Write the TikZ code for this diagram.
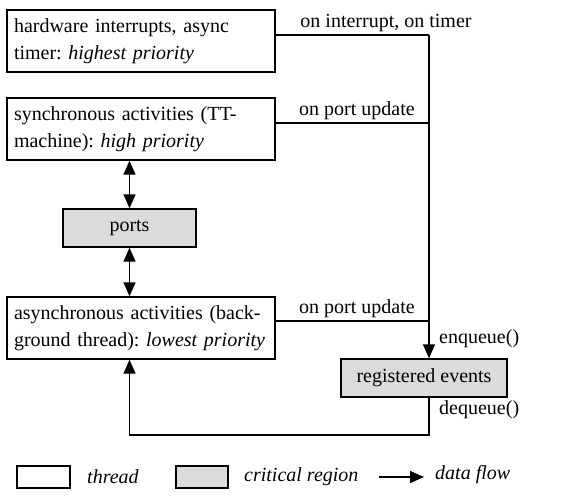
\documentclass[tikz,border=0pt]{standalone}
\usepackage{fontspec}
\setmainfont{Liberation Serif}
\usetikzlibrary{arrows.meta,positioning}
\tikzstyle{thr}=[draw=black,line width=1.4pt,fill=white,minimum width=268pt,minimum height=62pt,text width=254pt,align=left,inner sep=0pt]
\tikzstyle{crit}=[draw=black,line width=1.4pt,fill=black!14,minimum height=38pt,inner sep=0pt]
\tikzstyle{flow}=[-{Triangle[width=12pt,length=14pt]},line width=1.4pt]
\tikzstyle{both}=[{Triangle[width=12pt,length=14pt]}-{Triangle[width=12pt,length=14pt]},line width=1.4pt]
\tikzstyle{lbl}=[font=\fontsize{20}{24}\selectfont,inner sep=1pt]

\begin{document}
\frenchspacing
\begin{tikzpicture}[x=1pt,y=-1pt,font=\fontsize{20}{27}\selectfont]
\useasboundingbox (0,0) rectangle (586,500);
% threads
\node[thr] (hw) at (141,41) {hardware interrupts, async\\timer: \textit{highest priority}};
\node[thr] (sync) at (141,129) {synchronous activities (TT-\\machine): \textit{high priority}};
\node[crit,minimum width=133pt] (ports) at (129.5,228) {ports};
\node[thr] (async) at (141,328) {asynchronous activities (back-\\ground thread): \textit{lowest priority}};
\node[crit,minimum width=166pt] (regev) at (424,378) {registered events};
% event bus
\coordinate (bustop) at (429,35);
\coordinate (busbot) at (429,435);
\draw[line width=1.4pt] ([yshift=6pt]hw.east) -- (bustop);
\draw[flow] (bustop) -- (regev.north -| bustop);
\draw[line width=1.4pt] ([yshift=6pt]sync.east) -- ([yshift=6pt]sync.east -| bustop);
\draw[line width=1.4pt] ([yshift=7pt]async.east) -- ([yshift=7pt]async.east -| bustop);
\draw[flow] (regev.south -| bustop) -- (busbot) -- (busbot -| ports) -- (async.south -| ports);
% ports access
\draw[both] (sync.south -| ports) -- (ports.north);
\draw[both] (ports.south) -- (async.north -| ports);
% labels
\node[lbl,anchor=south] (l1) at (386,33) {on interrupt, on timer};
\node[lbl,anchor=south] (l2) at (357,121) {on port update};
\node[lbl,anchor=south] (l3) at (357,319) {on port update};
\node[lbl,anchor=west] (l4) at (438,339) {enqueue()};
\node[lbl,anchor=west] (l5) at (438,410) {dequeue()};
% legend
\node[thr,minimum width=53pt,minimum height=22pt,text width=] (kthr) at (43.5,477) {};
\node[lbl,anchor=west] (tthr) at (86,477) {\textit{thread}};
\node[crit,minimum width=52pt,minimum height=22pt] (kcrit) at (202,477) {};
\node[lbl,anchor=west] (tcrit) at (243,477) {\textit{critical region}};
\coordinate (ka) at (379,477);
\coordinate (kb) at (424,477);
\draw[flow] (ka) -- (kb);
\node[lbl,anchor=west] (tflow) at (434,475) {\textit{data flow}};
\end{tikzpicture}
\end{document}
